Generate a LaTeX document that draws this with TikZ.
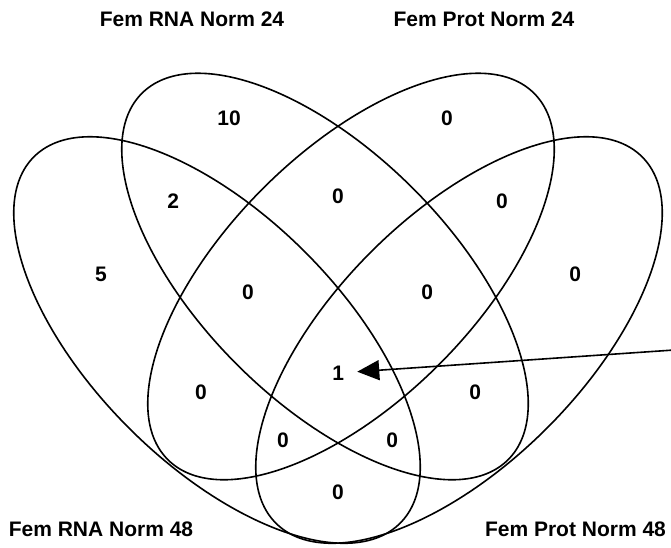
\documentclass[tikz,border=0pt]{standalone}
\usepackage{fontspec}
\setmainfont{Liberation Sans}
\usetikzlibrary{arrows.meta}
\begin{document}
\begin{tikzpicture}[x=1pt,y=-1pt,
  venn/.style={draw=black, line width=1.6pt},
  count/.style={font=\fontsize{21}{25}\selectfont\bfseries, inner sep=0pt},
  setlabel/.style={font=\fontsize{21}{25}\selectfont\bfseries, inner sep=0pt},
  pointer/.style={draw=black, line width=1.6pt, -{Triangle[length=22pt,width=20pt]}}]
\useasboundingbox[fill=white] (0,0) rectangle (671,547);
% ellipse centres
\coordinate (c1) at (217,340);
\coordinate (c2) at (325,276.5);
\coordinate (c3) at (351,276.5);
\coordinate (c4) at (459,340);
\draw[venn, rotate around={-45:(c1)}] (c1) ellipse [x radius=259pt, y radius=124.5pt];
\draw[venn, rotate around={-45:(c2)}] (c2) ellipse [x radius=259pt, y radius=124.5pt];
\draw[venn, rotate around={45:(c3)}] (c3) ellipse [x radius=259pt, y radius=124.5pt];
\draw[venn, rotate around={45:(c4)}] (c4) ellipse [x radius=259pt, y radius=124.5pt];
% set labels
\node[setlabel] (l1) at (192,19.5) {Fem RNA Norm 24};
\node[setlabel] (l2) at (484,19.5) {Fem Prot Norm 24};
\node[setlabel] (l3) at (101,529) {Fem RNA Norm 48};
\node[setlabel] (l4) at (575.5,529.5) {Fem Prot Norm 48};
% counts
\node[count] (n1) at (229,118.5) {10};
\node[count] (n2) at (447,118.5) {0};
\node[count] (n3) at (173.3,201.5) {2};
\node[count] (n4) at (338,196) {0};
\node[count] (n5) at (502,201) {0};
\node[count] (n6) at (101,274) {5};
\node[count] (n7) at (248,292.3) {0};
\node[count] (n8) at (427.3,292.3) {0};
\node[count] (n9) at (575.3,274) {0};
\node[count] (one) at (338.3,373) {1};
\node[count] (n11) at (201,392.3) {0};
\node[count] (n12) at (475.3,392.3) {0};
\node[count] (n13) at (283,440) {0};
\node[count] (n14) at (392.3,440) {0};
\node[count] (n15) at (338,492.3) {0};
% arrow
\coordinate (src) at (690,348.9);
\draw[pointer, shorten >=19pt] (src) -- (one.center);
\end{tikzpicture}
\end{document}
